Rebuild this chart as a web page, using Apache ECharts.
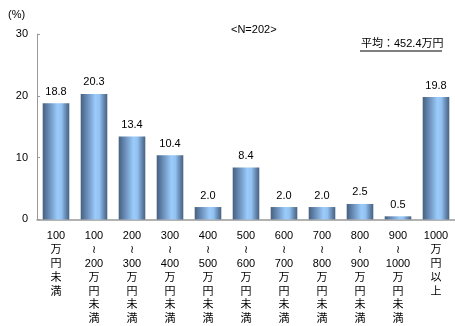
<!DOCTYPE html>
<html><head><meta charset="utf-8">
<script src="https://cdn.jsdelivr.net/npm/echarts@6/dist/echarts.min.js"></script>
<style>html,body{margin:0;padding:0;background:#fff}#c{width:455px;height:326px}</style>
</head><body><div id="c"></div>
<script>
const categories = [
  "100\n万\n円\n未\n満",
  "100\n{s|≀}\n200\n万\n円\n未\n満",
  "200\n{s|≀}\n300\n万\n円\n未\n満",
  "300\n{s|≀}\n400\n万\n円\n未\n満",
  "400\n{s|≀}\n500\n万\n円\n未\n満",
  "500\n{s|≀}\n600\n万\n円\n未\n満",
  "600\n{s|≀}\n700\n万\n円\n未\n満",
  "700\n{s|≀}\n800\n万\n円\n未\n満",
  "800\n{s|≀}\n900\n万\n円\n未\n満",
  "900\n{s|≀}\n1000\n万\n円\n未\n満",
  "1000\n万\n円\n以\n上"
];
const values = [18.8, 20.3, 13.4, 10.4, 2.0, 8.4, 2.0, 2.0, 2.5, 0.5, 19.8];
const yTicks = [0, 10, 20, 30];
const FONT = "'Liberation Sans', 'Noto Sans CJK JP', sans-serif";
const chart = echarts.init(document.getElementById('c'), null, {renderer: 'canvas'});
const grad = new echarts.graphic.LinearGradient(0, 0, 1, 0, [
  {offset: 0, color: '#465f7e'},
  {offset: 0.25, color: '#6b8fba'},
  {offset: 0.55, color: '#9acbfb'},
  {offset: 0.7, color: '#93c3f2'},
  {offset: 0.9, color: '#5d7ea4'},
  {offset: 1, color: '#48627f'}
]);
chart.setOption({
  animation: false,
  grid: {left: 37, right: -3, top: 34, bottom: 103},
  graphic: [
    {type: 'text', left: 8, top: 9, style: {text: '(%)', font: '11px ' + FONT, fill: '#000'}},
    {type: 'text', left: 231, top: 24, style: {text: '<N=202>', font: '11px ' + FONT, fill: '#000'}},
    {type: 'text', left: 361, top: 38, style: {text: '平均：452.4万円', font: '11px ' + FONT, fill: '#000'}},
    {type: 'line', shape: {x1: 360, y1: 51, x2: 442, y2: 51}, style: {stroke: '#000', lineWidth: 1}}
  ],
  xAxis: {
    type: 'category', data: categories,
    axisLine: {lineStyle: {color: '#999', width: 1.5}},
    axisTick: {inside: true, length: 4, lineStyle: {color: '#999'}},
    axisLabel: {interval: 0, color: '#000', fontSize: 11, fontFamily: FONT, lineHeight: 13.8, margin: 10, verticalAlign: 'top',
      rich: {s: {fontFamily: "'DejaVu Sans'", fontSize: 11, lineHeight: 13.8, color: '#000'}}}
  },
  yAxis: {
    type: 'value', min: 0, max: 30, interval: 10,
    axisLine: {show: true, lineStyle: {color: '#999'}},
    axisTick: {show: true, inside: true, length: 3, lineStyle: {color: '#999'}},
    splitLine: {show: false},
    axisLabel: {color: '#000', fontSize: 11, fontFamily: FONT, margin: 9,
      formatter: v => yTicks.includes(v) ? String(v) : ''}
  },
  series: [{
    type: 'bar', data: values, barWidth: '70%',
    itemStyle: {color: grad},
    label: {show: true, position: 'top', distance: 6, color: '#000', fontSize: 11, fontFamily: FONT,
      formatter: p => p.value.toFixed(1)}
  }]
});
</script></body></html>
